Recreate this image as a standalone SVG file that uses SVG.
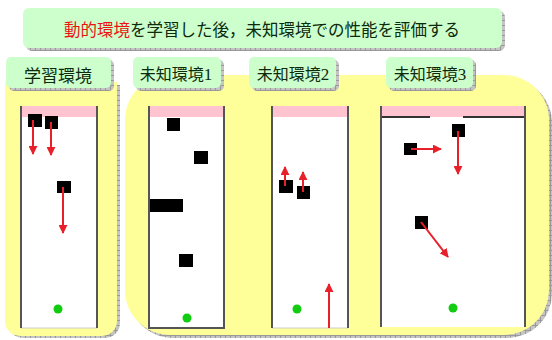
<svg xmlns="http://www.w3.org/2000/svg" width="552" height="340" viewBox="0 0 552 340">
<defs>
<pattern id="grid" width="5" height="5" patternUnits="userSpaceOnUse">
<rect width="5" height="5" fill="#c4c4c4"/>
<path d="M0.5 0V5M0 0.5H5" stroke="#999" stroke-width="1"/>
</pattern>
<marker id="ah" viewBox="0 0 10 10" refX="9" refY="5" markerWidth="4.5" markerHeight="4.5" orient="auto" markerUnits="strokeWidth">
<path d="M0 0L10 5L0 10Z" fill="#e8202a"/>
</marker>
</defs>
<style>
.lbl{fill:#ccffcc}
.sh{fill:url(#grid)}
.yel{fill:#ffff99}
.txt{font-family:"Noto Sans CJK JP","Noto Sans",sans-serif;fill:#0d2a0d}
.dig{font-family:"Liberation Serif",serif;font-size:17px}
.wall{stroke:#555;stroke-width:2;fill:none}
.field{fill:#fff}
.pink{fill:#ffc4d0}
.blk{fill:#000}
.arr{stroke:#e8202a;stroke-width:2;fill:none;marker-end:url(#ah)}
.ball{fill:#11cc11}
</style>
<rect width="552" height="340" fill="#fff"/>

<g id="banner">
<rect class="sh" x="26" y="11" width="479" height="40" rx="6"/>
<rect class="lbl" x="23" y="8" width="479" height="40" rx="6"/>
<text class="txt" x="262" y="36" font-size="16.5" text-anchor="middle"><tspan fill="#ee1111">動的環境</tspan>を学習した後，未知環境での性能を評価する</text>
</g>

<g id="bg-learn">
<path class="sh" d="M8 85H120V323A15 15 0 0 1 105 338H23A15 15 0 0 1 8 323Z"/>
<path class="yel" d="M5 82H117V321A15 15 0 0 1 102 336H20A15 15 0 0 1 5 321Z"/>
</g>
<g id="bg-unknown">
<rect class="sh" x="128" y="78" width="424" height="260" rx="45"/>
<rect class="yel" x="125" y="75" width="424" height="260" rx="45"/>
</g>

<g id="label-learn">
<rect class="sh" x="9" y="60" width="105" height="31" rx="5"/>
<rect class="lbl" x="6" y="57" width="105" height="31" rx="5"/>
<text class="txt" x="58" y="82" font-size="17" text-anchor="middle">学習環境</text>
</g>
<g id="label-u1">
<rect class="sh" x="136" y="60" width="88" height="31" rx="5"/>
<rect class="lbl" x="133" y="57" width="88" height="31" rx="5"/>
<text class="txt" x="176" y="80" font-size="16" text-anchor="middle">未知環境<tspan class="dig">1</tspan></text>
</g>
<g id="label-u2">
<rect class="sh" x="252" y="60" width="87" height="31" rx="5"/>
<rect class="lbl" x="249" y="57" width="87" height="31" rx="5"/>
<text class="txt" x="293" y="80" font-size="16" text-anchor="middle">未知環境<tspan class="dig">2</tspan></text>
</g>
<g id="label-u3">
<rect class="sh" x="389" y="60" width="87" height="31" rx="5"/>
<rect class="lbl" x="386" y="57" width="87" height="31" rx="5"/>
<text class="txt" x="430" y="80" font-size="16" text-anchor="middle">未知環境<tspan class="dig">3</tspan></text>
</g>

<g id="panel-learn">
<rect class="field" x="21" y="106" width="76" height="222"/>
<rect class="pink" x="21" y="106" width="76" height="11"/>
<line x1="21" y1="328" x2="97" y2="328" stroke="#ccc" stroke-width="1"/>
<path class="wall" d="M21 106V328M97 106V328"/>
<rect class="blk" x="28" y="114" width="14" height="13"/>
<rect class="blk" x="45" y="116" width="13" height="13"/>
<rect class="blk" x="57" y="181" width="14" height="12"/>
<circle class="ball" cx="58" cy="309" r="4.5"/>
</g>

<g id="panel-u1">
<rect class="field" x="149" y="106" width="75" height="222"/>
<rect class="pink" x="149" y="106" width="75" height="11"/>
<path class="wall" d="M149 106V328H224V106"/>
<rect class="blk" x="167" y="118" width="13" height="13"/>
<rect class="blk" x="194" y="151" width="14" height="13"/>
<rect class="blk" x="150" y="199" width="33" height="13"/>
<rect class="blk" x="179" y="254" width="14" height="13"/>
<circle class="ball" cx="187" cy="318" r="4.5"/>
</g>

<g id="panel-u2">
<rect class="field" x="272" y="106" width="76" height="222"/>
<rect class="pink" x="272" y="106" width="76" height="11"/>
<line x1="272" y1="328" x2="348" y2="328" stroke="#ccc" stroke-width="1"/>
<path class="wall" d="M272 106V328M348 106V328"/>
<rect class="blk" x="279" y="180" width="14" height="13"/>
<rect class="blk" x="297" y="186" width="13" height="13"/>
<circle class="ball" cx="297" cy="309" r="4.5"/>
</g>

<g id="panel-u3">
<rect class="field" x="381" y="106" width="144" height="221"/>
<rect class="pink" x="381" y="106" width="144" height="11"/>
<path d="M381 117H430M463 117H525" stroke="#333" stroke-width="2" fill="none"/>
<path class="wall" d="M381 106V327M525 106V327"/>
<rect class="blk" x="404" y="143" width="13" height="12"/>
<rect class="blk" x="452" y="124" width="13" height="13"/>
<rect class="blk" x="415" y="216" width="13" height="13"/>
<circle class="ball" cx="453" cy="308" r="4.5"/>
</g>

<g id="connectors">
<line class="arr" x1="33" y1="120" x2="33" y2="154"/>
<line class="arr" x1="51" y1="122" x2="51" y2="155"/>
<line class="arr" x1="63" y1="187" x2="63" y2="233"/>
<line class="arr" x1="285" y1="186" x2="285" y2="167"/>
<line class="arr" x1="303" y1="192" x2="303" y2="172"/>
<line class="arr" x1="329" y1="328" x2="329" y2="284"/>
<line class="arr" x1="411" y1="149" x2="441" y2="149"/>
<line class="arr" x1="458" y1="131" x2="458" y2="174"/>
<line class="arr" x1="421" y1="222" x2="448" y2="257"/>
</g>
</svg>
